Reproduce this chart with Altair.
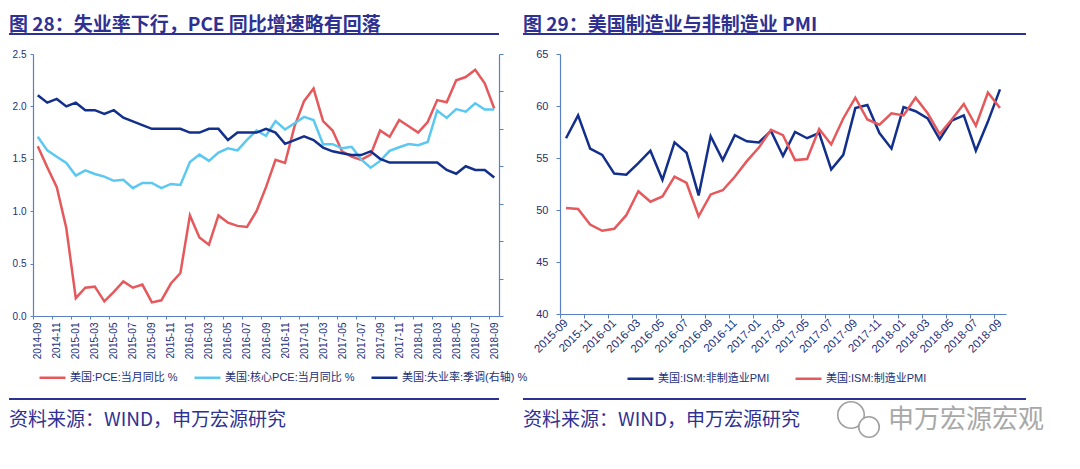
import altair as alt
import pandas as pd

# ---------------- data: left panel (2014-09 .. 2018-09) ----------------
left_months = [p.strftime("%Y-%m") for p in pd.period_range("2014-09", "2018-09", freq="M")]
left_tick_labels = left_months[::2]

pce = [1.62, 1.42, 1.23, 0.84, 0.17, 0.27, 0.28, 0.14, 0.23, 0.33, 0.27, 0.30, 0.13, 0.15, 0.31, 0.41,
       0.96, 0.75, 0.68, 0.96, 0.89, 0.86, 0.85, 1.00,
       1.23, 1.49, 1.46, 1.81, 2.05, 2.17, 1.86, 1.77, 1.57, 1.52, 1.49, 1.54,
       1.77, 1.71, 1.87, 1.81, 1.75, 1.85, 2.06, 2.04, 2.25, 2.28, 2.35, 2.22, 1.98]
core_pce = [1.71, 1.58, 1.52, 1.46, 1.34, 1.39, 1.355, 1.33, 1.29, 1.30, 1.22, 1.27, 1.27, 1.22, 1.26, 1.25,
            1.47, 1.54, 1.48, 1.56, 1.60, 1.58, 1.68, 1.77,
            1.72, 1.86, 1.78, 1.84, 1.90, 1.87, 1.64, 1.64, 1.60, 1.615, 1.495, 1.415,
            1.48, 1.575, 1.61, 1.64, 1.63, 1.66, 1.96, 1.89, 1.975, 1.95, 2.03, 1.97, 1.97]
unemployment = [5.9, 5.7, 5.8, 5.6,
                5.7, 5.5, 5.5, 5.4, 5.5, 5.3, 5.2, 5.1, 5.0, 5.0, 5.0, 5.0,
                4.9, 4.9, 5.0, 5.0, 4.7, 4.9, 4.9, 4.9, 5.0, 4.9, 4.6, 4.7,
                4.8, 4.7, 4.5, 4.4, 4.35, 4.3, 4.3, 4.4, 4.2, 4.1, 4.1, 4.1,
                4.1, 4.1, 4.1, 3.9, 3.8, 4.0, 3.9, 3.9, 3.7]

left_series = ["美国:PCE:当月同比 %", "美国:核心PCE:当月同比 %", "美国:失业率:季调(右轴) %"]
left_colors = ["#E5585C", "#5BC8F2", "#132F8C"]

# ---------------- data: right panel (2015-09 .. 2018-09) ----------------
right_months = [p.strftime("%Y-%m") for p in pd.period_range("2015-09", "2018-09", freq="M")]
right_tick_labels = right_months[::2]

ism_nonmfg = [56.9, 59.1, 55.9, 55.3,
              53.5, 53.4, 54.5, 55.7, 52.9, 56.5, 55.5, 51.4, 57.1, 54.8, 57.2, 56.6,
              56.5, 57.6, 55.2, 57.5, 56.9, 57.4, 53.9, 55.3, 59.8, 60.1, 57.4, 55.9,
              59.9, 59.5, 58.8, 56.8, 58.6, 59.1, 55.7, 58.5, 61.6]
ism_mfg = [50.2, 50.1, 48.6, 48.0,
           48.2, 49.5, 51.8, 50.8, 51.3, 53.2, 52.6, 49.4, 51.5, 51.9, 53.2, 54.7,
           56.0, 57.7, 57.2, 54.8, 54.9, 57.8, 56.3, 58.8, 60.8, 58.7, 58.2, 59.3,
           59.1, 60.8, 59.3, 57.3, 58.7, 60.2, 58.1, 61.3, 59.8]

right_series = ["美国:ISM:非制造业PMI", "美国:ISM:制造业PMI"]
right_colors = ["#132F8C", "#E5585C"]

title_left = "图 28：失业率下行，PCE 同比增速略有回落"
title_right = "图 29：美国制造业与非制造业 PMI"
source_text = "资料来源：WIND，申万宏源研究"
watermark = "申万宏源宏观"

# ---------------- style ----------------
NAVY = "#2E3192"
AXIS = "#5A80C4"
LABEL = "#22307A"
LAT = "Liberation Sans, Noto Sans CJK SC, sans-serif"
CJK = "Noto Sans CJK SC, sans-serif"

LW, LH = 466, 262
RW, RH = 446, 260

# ---------------- left panel ----------------
df_pce = pd.DataFrame({
    "idx": list(range(len(left_months))) * 2,
    "month": left_months * 2,
    "series": [left_series[0]] * len(pce) + [left_series[1]] * len(core_pce),
    "value": pce + core_pce,
})
df_unemp = pd.DataFrame({
    "idx": list(range(len(left_months))),
    "month": left_months,
    "series": [left_series[2]] * len(unemployment),
    "value": unemployment,
})

left_label_js = "[" + ",".join("'%s'" % s for s in left_tick_labels) + "]"
left_x = alt.X(
    "idx:Q",
    scale=alt.Scale(domain=[-0.5, len(left_months) - 0.5], nice=False, zero=False),
    axis=alt.Axis(
        values=[-0.5 + 2 * k for k in range(len(left_tick_labels))],
        labelExpr=left_label_js + "[round((datum.value + 0.5) / 2)]",
        labelAngle=270, labelAlign="right", labelBaseline="middle",
        labelOffset=LW / len(left_months) / 2, labelPadding=3,
        labelOverlap=False, labelFlush=False, labelFontSize=10,
        tickSize=3, title=None, grid=False,
    ),
)
left_color = alt.Color(
    "series:N",
    scale=alt.Scale(domain=left_series, range=left_colors),
    legend=alt.Legend(
        orient="none", legendX=5, legendY=309, direction="horizontal",
        symbolType="stroke", symbolSize=676, symbolStrokeWidth=2.5,
        labelFontSize=11, labelFont=LAT, labelColor=LABEL, labelOffset=3,
        columnPadding=11, padding=0, title=None, labelLimit=300,
    ),
)

pce_lines = alt.Chart(df_pce).mark_line(strokeWidth=2.5).encode(
    x=left_x,
    y=alt.Y("value:Q", scale=alt.Scale(domain=[0, 2.5], nice=False),
            axis=alt.Axis(values=[0, 0.5, 1.0, 1.5, 2.0, 2.5], format=".1f", tickSize=3,
                          labelPadding=4, title=None, grid=False, labelFontSize=10)),
    color=left_color,
    detail="series:N",
)
unemp_line = alt.Chart(df_unemp).mark_line(strokeWidth=2.5).encode(
    x=left_x,
    y=alt.Y("value:Q", scale=alt.Scale(domain=[0, 7], nice=False),
            axis=alt.Axis(orient="right", values=list(range(8)), labels=False, tickSize=4,
                          title=None, grid=False)),
    color=left_color,
)


def deco(title, title_x, rule_x1, rule_x2):
    t = alt.Chart(pd.DataFrame({"t": [title]})).mark_text(
        align="left", baseline="top", font=CJK, fontSize=19, fontWeight="bold", color=NAVY
    ).encode(text="t:N", x=alt.value(title_x), y=alt.value(-38))
    r1 = alt.Chart(pd.DataFrame({"t": [title]})).mark_rule(color=NAVY, strokeWidth=2).encode(
        x=alt.value(rule_x1), x2=alt.value(rule_x2), y=alt.value(-20))
    r2 = alt.Chart(pd.DataFrame({"t": [source_text]})).mark_rule(color=NAVY, strokeWidth=2).encode(
        x=alt.value(rule_x1), x2=alt.value(rule_x2), y=alt.value(345))
    s = alt.Chart(pd.DataFrame({"t": [source_text]})).mark_text(
        align="left", baseline="middle", font=CJK, fontSize=19, color=NAVY
    ).encode(text="t:N", x=alt.value(title_x), y=alt.value(366))
    return [t, r1, r2, s]


left = alt.layer(
    pce_lines, unemp_line, *deco(title_left, -24, -24, 466)
).resolve_scale(y="independent").properties(width=LW, height=LH)

# ---------------- right panel ----------------
df_pmi = pd.DataFrame({
    "idx": list(range(len(right_months))) * 2,
    "month": right_months * 2,
    "series": [right_series[0]] * len(ism_nonmfg) + [right_series[1]] * len(ism_mfg),
    "value": ism_nonmfg + ism_mfg,
})
right_label_js = "[" + ",".join("'%s'" % s for s in right_tick_labels) + "]"

pmi_lines = alt.Chart(df_pmi).mark_line(strokeWidth=2.5).encode(
    x=alt.X(
        "idx:Q",
        scale=alt.Scale(domain=[-0.5, len(right_months) - 0.5], nice=False, zero=False),
        axis=alt.Axis(
            values=[-0.5 + 2 * k for k in range(len(right_tick_labels))],
            labelExpr=right_label_js + "[round((datum.value + 0.5) / 2)]",
            labelAngle=315, labelAlign="right", labelBaseline="middle",
            labelOffset=RW / len(right_months) / 2, labelPadding=3,
            labelOverlap=False, labelFlush=False, labelFontSize=11.5,
            tickSize=4, title=None, grid=False,
        ),
    ),
    y=alt.Y("value:Q", scale=alt.Scale(domain=[40, 65], nice=False, zero=False),
            axis=alt.Axis(values=[40, 45, 50, 55, 60, 65], tickSize=4, labelPadding=8,
                          title=None, grid=False, labelFontSize=11)),
    color=alt.Color(
        "series:N",
        scale=alt.Scale(domain=right_series, range=right_colors),
        legend=alt.Legend(
            orient="none", legendX=66, legendY=310, direction="horizontal",
            symbolType="stroke", symbolSize=676, symbolStrokeWidth=2.5,
            labelFontSize=11, labelFont=LAT, labelColor=LABEL, labelOffset=3,
            columnPadding=20, padding=0, title=None, labelLimit=300,
        ),
    ),
)

wm_text = alt.Chart(pd.DataFrame({"t": [watermark]})).mark_text(
    align="left", baseline="middle", font=CJK, fontSize=26, color="#A8A8A8"
).encode(text="t:N", x=alt.value(328), y=alt.value(366))
wm_big = alt.Chart(pd.DataFrame({"t": [watermark]})).mark_point(
    shape="circle", filled=False, color="#A0A0A0", strokeWidth=1.6, opacity=1
).encode(x=alt.value(291), y=alt.value(361), size=alt.value(700))
wm_small = alt.Chart(pd.DataFrame({"t": [watermark]})).mark_point(
    shape="circle", filled=True, fill="white", stroke="#A0A0A0", strokeWidth=1.6, opacity=1
).encode(x=alt.value(309), y=alt.value(373), size=alt.value(420))

right = alt.layer(
    pmi_lines, *deco(title_right, -37, -37, 466), wm_big, wm_small, wm_text
).properties(width=RW, height=RH)

chart = alt.hconcat(left, right, spacing=61, bounds="flush").resolve_scale(
    x="independent", y="independent", color="independent"
).resolve_legend(color="independent").properties(
    padding={"left": 0, "top": 8, "right": 0, "bottom": 0}
).configure_view(
    stroke=None
).configure_axis(
    domainColor=AXIS, tickColor=AXIS, labelColor=LABEL, labelFont=LAT, domainWidth=1.2, tickWidth=1
)

chart.save("out.html", embed_options={"renderer": "svg", "actions": False})
